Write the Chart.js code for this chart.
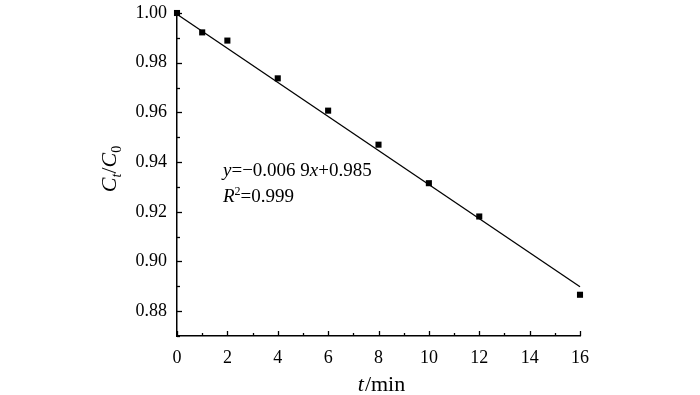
<!DOCTYPE html>
<html>
<head>
<meta charset="utf-8">
<script src="https://cdn.jsdelivr.net/npm/chart.js@4"></script>
<style>
  html, body { margin: 0; padding: 0; background: #fff; }
  #wrap { width: 700px; height: 395px; }
</style>
</head>
<body>
<div id="wrap"><canvas id="myChart"></canvas></div>
<script>
  // measured points (t in min, Ct/C0)
  const times = [0, 1, 2, 4, 6, 8, 10, 12, 16];
  const ratios = [1.000, 0.9922, 0.9889, 0.9737, 0.9607, 0.9470, 0.9315, 0.9181, 0.8866];
  // fitted line as drawn
  const fitX = [0, 16];
  const fitY = [0.9995, 0.8898];

  const serif = '"Liberation Serif", "DejaVu Serif", serif';

  const ctx = document.getElementById('myChart');

  // tick marks pointing inward, long on labelled ticks, short between
  const inTicks = {
    id: 'inTicks',
    afterDraw(chart) {
      const c = chart.ctx;
      const xs = chart.scales.x, ys = chart.scales.y;
      const area = chart.chartArea;
      c.save();
      c.strokeStyle = '#000';
      c.lineWidth = 1.3;
      xs.ticks.forEach(t => {
        const px = Math.round(xs.getPixelForValue(t.value)) + 0.5;
        const len = t.value % 2 === 0 ? 5 : 3;
        c.beginPath();
        c.moveTo(px, area.bottom);
        c.lineTo(px, area.bottom - len);
        c.stroke();
      });
      ys.ticks.forEach(t => {
        const py = Math.round(ys.getPixelForValue(t.value)) + 0.5;
        const len = Math.round(t.value * 100) % 2 === 0 ? 5 : 3;
        c.beginPath();
        c.moveTo(area.left, py);
        c.lineTo(area.left + len, py);
        c.stroke();
      });

      c.fillStyle = '#000';
      c.textBaseline = 'alphabetic';

      // x title: t/min
      const ft = '22px ' + serif;
      const fti = 'italic 22px ' + serif;
      c.font = fti; const wT = c.measureText('t').width;
      c.font = ft; const wM = c.measureText('/min').width;
      let x0 = 381 - (wT + wM) / 2;
      const yb = 391;
      c.font = fti; c.fillText('t', x0, yb);
      c.font = ft; c.fillText('/min', x0 + wT + 1, yb);

      // y title: Ct/C0 rotated
      c.save();
      c.translate(116, 169);
      c.rotate(-Math.PI / 2);
      const fb = 'italic 22px ' + serif;
      const fs = '14px ' + serif;
      const fsi = 'italic 14px ' + serif;
      const parts = [
        ['C', fb, 0], ['t', fsi, 5], ['/', '22px ' + serif, 0], ['C', fb, 0], ['0', fs, 5]
      ];
      let tw = 0;
      parts.forEach(p => { c.font = p[1]; tw += c.measureText(p[0]).width; });
      let cx = -tw / 2;
      parts.forEach(p => {
        c.font = p[1];
        c.fillText(p[0], cx, p[2]);
        cx += c.measureText(p[0]).width;
      });
      c.restore();

      // equation text
      const f = '19px ' + serif;
      const fi = 'italic 19px ' + serif;
      let ex = 223, ey = 176;
      const eq = [['y', fi], ['=\u22120.006 9', f], ['x', fi], ['+0.985', f]];
      eq.forEach(p => { c.font = p[1]; c.fillText(p[0], ex, ey); ex += c.measureText(p[0]).width; });
      ex = 223; ey = 202;
      c.font = fi; c.fillText('R', ex, ey); ex += c.measureText('R').width;
      c.font = '12px ' + serif; c.fillText('2', ex, ey - 7); ex += c.measureText('2').width;
      c.font = f; c.fillText('=0.999', ex, ey);
      c.restore();
    }
  };

  new Chart(ctx, {
    data: {
      datasets: [
        {
          type: 'scatter',
          data: times.map((t, i) => ({ x: t, y: ratios[i] })),
          pointStyle: 'rect',
          pointRadius: 4.3,
          backgroundColor: '#000',
          borderColor: '#000',
          borderWidth: 0,
          clip: false
        },
        {
          type: 'line',
          data: fitX.map((t, i) => ({ x: t, y: fitY[i] })),
          borderColor: '#000',
          borderWidth: 1.3,
          pointRadius: 0,
          fill: false,
          clip: false
        }
      ]
    },
    options: {
      responsive: true,
      maintainAspectRatio: false,
      animation: false,
      layout: { padding: { left: 0, right: 120, top: 13, bottom: 0 } },
      plugins: { legend: { display: false }, tooltip: { enabled: false } },
      scales: {
        x: {
          type: 'linear',
          min: 0, max: 16,
          afterFit: s => { s.height = 59; },
          border: { display: true, color: '#000', width: 1.5 },
          grid: { display: false, drawTicks: false },
          ticks: {
            stepSize: 1,
            autoSkip: false,
            maxRotation: 0,
            padding: 11,
            color: '#000',
            font: { family: serif, size: 18 },
            callback: v => (v % 2 === 0 ? String(v) : '')
          }
        },
        y: {
          type: 'linear',
          min: 0.87, max: 1.00,
          afterFit: s => { s.width = 177; },
          border: { display: true, color: '#000', width: 1.5 },
          grid: { display: false, drawTicks: false },
          ticks: {
            stepSize: 0.01,
            autoSkip: false,
            padding: 10,
            color: '#000',
            font: { family: serif, size: 18, lineHeight: 0.3 },
            callback: v => (Math.round(v * 100) % 2 === 0 ? v.toFixed(2) : '')
          }
        }
      }
    },
    plugins: [inTicks]
  });
</script>
</body>
</html>
